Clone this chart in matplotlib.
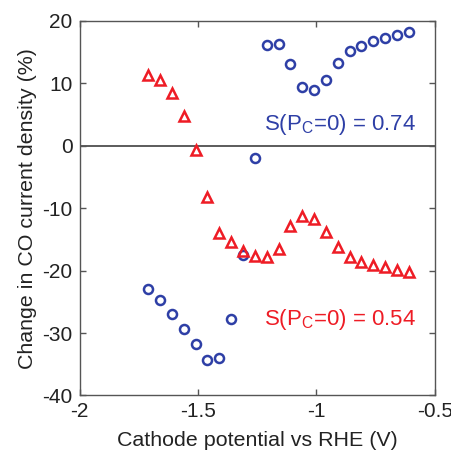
import numpy as np
import matplotlib
matplotlib.use("Agg")
import matplotlib.pyplot as plt

# -----------------------------
# Data
# -----------------------------
potential = [-1.71, -1.66, -1.61, -1.56, -1.51, -1.46, -1.41, -1.36, -1.31, -1.26,
             -1.21, -1.16, -1.11, -1.06, -1.01, -0.96, -0.91, -0.86, -0.81, -0.76,
             -0.71, -0.66, -0.61]

# blue circles, S(Pc=0) = 0.74
change_blue = [-22.9, -24.7, -27.0, -29.3, -31.7, -34.4, -34.0, -27.7, -17.5, -2.0,
               16.1, 16.3, 13.1, 9.4, 9.0, 10.5, 13.2, 15.1, 16.0, 16.7,
               17.2, 17.7, 18.2]

# red triangles, S(Pc=0) = 0.54
change_red = [11.3, 10.5, 8.4, 4.8, -0.7, -8.2, -14.0, -15.4, -16.8, -17.7,
              -17.9, -16.6, -12.9, -11.3, -11.8, -13.8, -16.3, -17.8, -18.7, -19.1,
              -19.5, -19.9, -20.3]

xticks = [-2, -1.5, -1, -0.5]
yticks = [-40, -30, -20, -10, 0, 10, 20]

blue = "#2e3fa6"
red = "#ee1c25"

plt.rcParams["font.family"] = ["Liberation Sans", "DejaVu Sans"]
plt.rcParams["mathtext.fontset"] = "custom"
plt.rcParams["mathtext.rm"] = "Liberation Sans"
plt.rcParams["mathtext.it"] = "Liberation Sans"

fig = plt.figure(figsize=(4.52, 4.54), dpi=100)
ax = fig.add_axes([0.176, 0.129, 0.786, 0.825])

ax.axhline(0, color="#404040", lw=1.2, zorder=1)

ax.plot(potential, change_blue, "o", ms=6.5, mfc="none", mec=blue, mew=1.8, zorder=3)
ax.plot(potential, change_red, "^", ms=7, mfc="none", mec=red, mew=1.8, zorder=3)

ax.text(-0.58, 2.5, r"S(P$_{\mathregular{C}}$=0) = 0.74", color=blue,
        fontsize=16, ha="right", va="baseline")
ax.text(-0.58, -28.7, r"S(P$_{\mathregular{C}}$=0) = 0.54", color=red,
        fontsize=16, ha="right", va="baseline")

ax.set_xlim(-2, -0.5)
ax.set_ylim(-40, 20)
ax.set_xticks(xticks)
ax.set_xticklabels(["-2", "-1.5", "-1", "-0.5"])
ax.set_yticks(yticks)
ax.set_yticklabels([str(v) for v in yticks])

ax.tick_params(direction="in", top=True, right=True, length=4, width=1,
               color="#555555", labelsize=15, pad=5, labelcolor="#222222")
for sp in ax.spines.values():
    sp.set_color("#555555")
    sp.set_linewidth(1)

ax.set_xlabel("Cathode potential vs RHE (V)", fontsize=15.4, color="#222222", labelpad=7)
ax.set_ylabel("Change in CO current density (%)", fontsize=15.4, color="#222222", labelpad=4)

fig.savefig("out.png", dpi=100)
